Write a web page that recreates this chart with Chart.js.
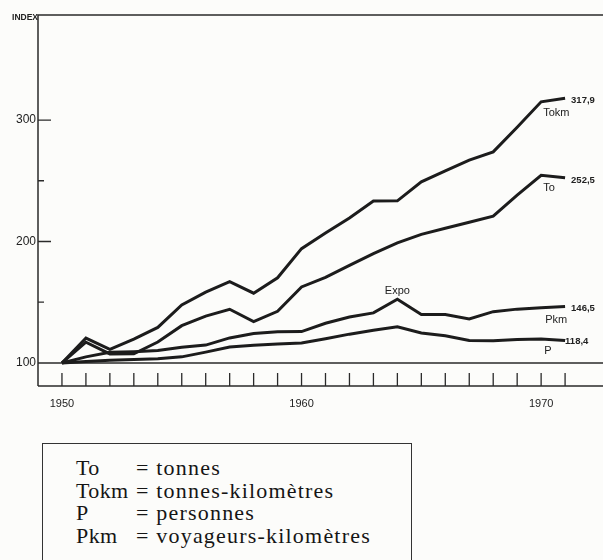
<!DOCTYPE html>
<html><head><meta charset="utf-8">
<script src="https://cdn.jsdelivr.net/npm/chart.js@4.4.1/dist/chart.umd.min.js"></script>
<style>
html,body{margin:0;padding:0;background:#fcfcfa;}
#wrap{position:relative;width:603px;height:560px;overflow:hidden;background:#fcfcfa;}
#c{position:absolute;left:0;top:0;}
#legend{position:absolute;left:42px;top:443px;width:370px;height:140px;border:1.5px solid #333;box-sizing:border-box;
  font-family:"Liberation Serif","Times New Roman",serif;font-size:22px;line-height:22.6px;color:#151515;letter-spacing:1.2px;padding-top:13px;}
.row{position:relative;height:22.6px;white-space:nowrap;}
.k{position:absolute;left:33px;letter-spacing:0.4px;}
.v{position:absolute;left:93px;}
</style></head>
<body><div id="wrap"><canvas id="c" width="613" height="430"></canvas><div id="legend"></div></div>
<script>
// ---- data ----
const years = [1950,1951,1952,1953,1954,1955,1956,1957,1958,1959,1960,1961,1962,1963,1964,1965,1966,1967,1968,1969,1970,1971];
const tokm = [100,120.4,111.2,119.6,129.2,147.7,158.3,167.0,157.4,170.1,194.1,206.9,219.3,233.4,233.5,249.1,258.2,267.0,273.8,294.1,315.0,317.9];
const to   = [100,117.1,107.4,107.5,117.2,130.7,138.6,144.2,134.1,142.5,162.6,170.4,180.3,190.0,198.8,205.9,210.9,215.8,220.8,238.1,254.5,252.5];
const pkm  = [100,105.0,108.7,109.3,110.3,112.9,114.7,120.6,124.2,125.7,125.8,132.7,137.8,141.2,152.5,139.8,139.9,136.2,142.2,144.3,145.4,146.5];
const p    = [100,101.2,102.2,102.8,103.4,105.0,108.9,113.1,114.6,115.6,116.5,119.9,123.7,126.9,129.7,124.7,122.3,118.4,118.3,119.3,119.8,118.4];
const seriesNames = ['Tokm','To','Pkm','P'];
const endLabels = ['317,9','252,5','146,5','118,4'];
const yTickValues = [100,150,200,250,300];
const yLabelValues = [100,200,300];
const xLabelYears = [1950,1960,1970];
const axisTitle = 'INDEX';
const noteText = 'Expo';
const noteYear = 1964;
const legendCodes = ['To','Tokm','P','Pkm'];
const legendMeanings = ['tonnes','tonnes-kilomètres','personnes','voyageurs-kilomètres'];

// ---- legend box (HTML) ----
const lg = document.getElementById('legend');
legendCodes.forEach((c,i)=>{
  const r = document.createElement('div'); r.className='row';
  const k = document.createElement('span'); k.className='k'; k.textContent=c;
  const v = document.createElement('span'); v.className='v'; v.textContent='= '+legendMeanings[i];
  r.appendChild(k); r.appendChild(v); lg.appendChild(r);
});

// ---- chart ----
const series = [tokm,to,pkm,p];
const ink = '#1c1c1c';
const annot = [ // styling offsets for labels
  {endDx:6, endDy:2, nameDx:2, nameDy:11},
  {endDx:6, endDy:3, nameDx:2, nameDy:13},
  {endDx:6, endDy:2, nameDx:4, nameDy:12},
  {endDx:0, endDy:1, nameDx:3, nameDy:12}
];

const deco = {
  id:'deco',
  beforeDatasetsDraw(chart){
    const {ctx, chartArea:a, scales:{x,y}} = chart;
    ctx.save();
    ctx.strokeStyle='#2a2a2a'; ctx.lineWidth=1.5;
    ctx.beginPath();
    ctx.moveTo(a.left, a.bottom); ctx.lineTo(a.left, a.top); ctx.lineTo(a.right, a.top);
    ctx.moveTo(a.left, a.bottom); ctx.lineTo(a.right, a.bottom);
    const yb = y.getPixelForValue(100);
    ctx.moveTo(a.left, yb); ctx.lineTo(a.right, yb);
    ctx.stroke();
    ctx.lineWidth=1.3;
    ctx.beginPath();
    y.ticks.forEach(t=>{
      if (t.value===100) return;
      const py = y.getPixelForValue(t.value);
      const len = yLabelValues.includes(t.value) ? 13 : 6;
      ctx.moveTo(a.left, py); ctx.lineTo(a.left+len, py);
    });
    x.ticks.forEach(t=>{
      const px = x.getPixelForValue(t.value);
      ctx.moveTo(px, a.bottom); ctx.lineTo(px, a.bottom-13);
    });
    ctx.stroke();
    ctx.fillStyle='#222';
    ctx.font='bold 8.5px "Liberation Sans", Arial, sans-serif';
    ctx.textAlign='right'; ctx.textBaseline='middle';
    ctx.fillText(axisTitle, a.left, a.top+3);
    ctx.restore();
  },
  afterDatasetsDraw(chart){
    const {ctx, scales:{x,y}} = chart;
    ctx.save();
    ctx.fillStyle='#222'; ctx.textBaseline='middle';
    const last = years.length-1;
    series.forEach((s,i)=>{
      const o = annot[i];
      ctx.textAlign='left';
      ctx.font='bold 9.5px "Liberation Sans", Arial, sans-serif';
      ctx.fillText(endLabels[i], x.getPixelForValue(years[last])+o.endDx, y.getPixelForValue(s[last])+o.endDy);
      ctx.font='11px "Liberation Sans", Arial, sans-serif';
      ctx.fillText(seriesNames[i], x.getPixelForValue(years[last-1])+o.nameDx, y.getPixelForValue(s[last-1])+o.nameDy);
    });
    const ni = years.indexOf(noteYear);
    ctx.textAlign='center';
    ctx.font='11px "Liberation Sans", Arial, sans-serif';
    ctx.fillText(noteText, x.getPixelForValue(noteYear), y.getPixelForValue(pkm[ni])-8);
    ctx.restore();
  }
};

new Chart(document.getElementById('c'), {
  type:'line',
  data:{
    datasets: series.map((s,i)=>({
      label: seriesNames[i],
      data: years.map((yr,j)=>({x:yr, y:s[j]})),
      borderColor: ink, borderWidth: 3, pointRadius: 0, tension: 0,
      borderJoinStyle:'miter', borderCapStyle:'butt', fill:false
    }))
  },
  options:{
    responsive:false, animation:false, devicePixelRatio:1,
    layout:{padding:{top:15,left:0,right:0,bottom:0}},
    plugins:{legend:{display:false}, tooltip:{enabled:false}},
    scales:{
      x:{
        type:'linear', min:1949, max:1973,
        grid:{display:false, drawTicks:false, tickLength:0}, border:{display:false},
        afterBuildTicks(s){ s.ticks = years.map(v=>({value:v})); },
        afterFit(s){ s.height = 44; },
        ticks:{
          autoSkip:false, maxRotation:0, padding:11, color:'#222',
          font:{family:'"Liberation Sans", Arial, sans-serif', size:11},
          callback:(v)=> xLabelYears.includes(v) ? String(v) : ''
        }
      },
      y:{
        min:81, max:386.5,
        grid:{display:false, drawTicks:false, tickLength:0}, border:{display:false},
        afterBuildTicks(s){ s.ticks = yTickValues.map(v=>({value:v})); },
        afterFit(s){ s.width = 38; },
        ticks:{
          padding:2, color:'#222',
          font:{family:'"Liberation Sans", Arial, sans-serif', size:12},
          callback:(v)=> yLabelValues.includes(v) ? String(v) : ''
        }
      }
    }
  },
  plugins:[deco]
});
</script>
</body></html>
